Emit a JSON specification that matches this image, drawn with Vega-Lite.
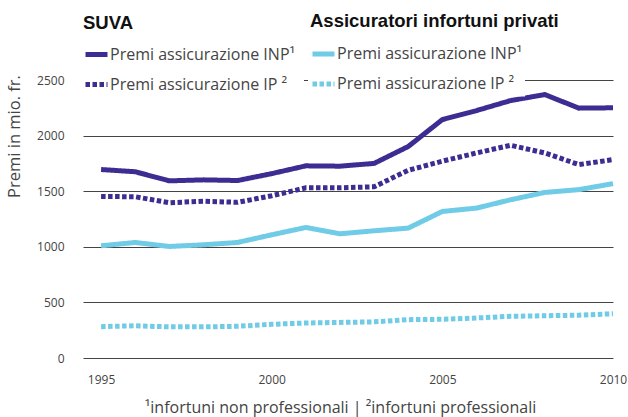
{
  "$schema": "https://vega.github.io/schema/vega-lite/v6.json",
  "width": 530,
  "height": 278,
  "autosize": "none",
  "padding": {"left": 83, "top": 80, "right": 15, "bottom": 59},
  "background": "white",
  "config": {"view": {"stroke": null}, "font": "Open Sans"},
  "title": {"text": "Assicuratori infortuni privati", "anchor": "start", "frame": "group", "dx": 227, "offset": 0, "dy": 24, "font": "Liberation Sans", "fontSize": 18.5, "fontWeight": "bold", "color": "#111"},
  "data": {"values": [
    {"anno":1995,"gruppo":"SUVA","serie":"Premi assicurazione INP¹","valore":1695},
    {"anno":1996,"gruppo":"SUVA","serie":"Premi assicurazione INP¹","valore":1675},
    {"anno":1997,"gruppo":"SUVA","serie":"Premi assicurazione INP¹","valore":1593},
    {"anno":1998,"gruppo":"SUVA","serie":"Premi assicurazione INP¹","valore":1602},
    {"anno":1999,"gruppo":"SUVA","serie":"Premi assicurazione INP¹","valore":1596},
    {"anno":2000,"gruppo":"SUVA","serie":"Premi assicurazione INP¹","valore":1658},
    {"anno":2001,"gruppo":"SUVA","serie":"Premi assicurazione INP¹","valore":1728},
    {"anno":2002,"gruppo":"SUVA","serie":"Premi assicurazione INP¹","valore":1725},
    {"anno":2003,"gruppo":"SUVA","serie":"Premi assicurazione INP¹","valore":1750},
    {"anno":2004,"gruppo":"SUVA","serie":"Premi assicurazione INP¹","valore":1902},
    {"anno":2005,"gruppo":"SUVA","serie":"Premi assicurazione INP¹","valore":2144},
    {"anno":2006,"gruppo":"SUVA","serie":"Premi assicurazione INP¹","valore":2225},
    {"anno":2007,"gruppo":"SUVA","serie":"Premi assicurazione INP¹","valore":2315},
    {"anno":2008,"gruppo":"SUVA","serie":"Premi assicurazione INP¹","valore":2369},
    {"anno":2009,"gruppo":"SUVA","serie":"Premi assicurazione INP¹","valore":2247},
    {"anno":2010,"gruppo":"SUVA","serie":"Premi assicurazione INP¹","valore":2250},
    {"anno":1995,"gruppo":"SUVA","serie":"Premi assicurazione IP ²","valore":1453},
    {"anno":1996,"gruppo":"SUVA","serie":"Premi assicurazione IP ²","valore":1450},
    {"anno":1997,"gruppo":"SUVA","serie":"Premi assicurazione IP ²","valore":1396},
    {"anno":1998,"gruppo":"SUVA","serie":"Premi assicurazione IP ²","valore":1410},
    {"anno":1999,"gruppo":"SUVA","serie":"Premi assicurazione IP ²","valore":1400},
    {"anno":2000,"gruppo":"SUVA","serie":"Premi assicurazione IP ²","valore":1459},
    {"anno":2001,"gruppo":"SUVA","serie":"Premi assicurazione IP ²","valore":1530},
    {"anno":2002,"gruppo":"SUVA","serie":"Premi assicurazione IP ²","valore":1530},
    {"anno":2003,"gruppo":"SUVA","serie":"Premi assicurazione IP ²","valore":1540},
    {"anno":2004,"gruppo":"SUVA","serie":"Premi assicurazione IP ²","valore":1688},
    {"anno":2005,"gruppo":"SUVA","serie":"Premi assicurazione IP ²","valore":1770},
    {"anno":2006,"gruppo":"SUVA","serie":"Premi assicurazione IP ²","valore":1844},
    {"anno":2007,"gruppo":"SUVA","serie":"Premi assicurazione IP ²","valore":1913},
    {"anno":2008,"gruppo":"SUVA","serie":"Premi assicurazione IP ²","valore":1844},
    {"anno":2009,"gruppo":"SUVA","serie":"Premi assicurazione IP ²","valore":1739},
    {"anno":2010,"gruppo":"SUVA","serie":"Premi assicurazione IP ²","valore":1784},
    {"anno":1995,"gruppo":"Privati","serie":"Premi assicurazione INP¹","valore":1009},
    {"anno":1996,"gruppo":"Privati","serie":"Premi assicurazione INP¹","valore":1039},
    {"anno":1997,"gruppo":"Privati","serie":"Premi assicurazione INP¹","valore":1003},
    {"anno":1998,"gruppo":"Privati","serie":"Premi assicurazione INP¹","valore":1018},
    {"anno":1999,"gruppo":"Privati","serie":"Premi assicurazione INP¹","valore":1039},
    {"anno":2000,"gruppo":"Privati","serie":"Premi assicurazione INP¹","valore":1108},
    {"anno":2001,"gruppo":"Privati","serie":"Premi assicurazione INP¹","valore":1174},
    {"anno":2002,"gruppo":"Privati","serie":"Premi assicurazione INP¹","valore":1117},
    {"anno":2003,"gruppo":"Privati","serie":"Premi assicurazione INP¹","valore":1144},
    {"anno":2004,"gruppo":"Privati","serie":"Premi assicurazione INP¹","valore":1168},
    {"anno":2005,"gruppo":"Privati","serie":"Premi assicurazione INP¹","valore":1318},
    {"anno":2006,"gruppo":"Privati","serie":"Premi assicurazione INP¹","valore":1348},
    {"anno":2007,"gruppo":"Privati","serie":"Premi assicurazione INP¹","valore":1423},
    {"anno":2008,"gruppo":"Privati","serie":"Premi assicurazione INP¹","valore":1489},
    {"anno":2009,"gruppo":"Privati","serie":"Premi assicurazione INP¹","valore":1514},
    {"anno":2010,"gruppo":"Privati","serie":"Premi assicurazione INP¹","valore":1568},
    {"anno":1995,"gruppo":"Privati","serie":"Premi assicurazione IP ²","valore":282},
    {"anno":1996,"gruppo":"Privati","serie":"Premi assicurazione IP ²","valore":290},
    {"anno":1997,"gruppo":"Privati","serie":"Premi assicurazione IP ²","valore":280},
    {"anno":1998,"gruppo":"Privati","serie":"Premi assicurazione IP ²","valore":280},
    {"anno":1999,"gruppo":"Privati","serie":"Premi assicurazione IP ²","valore":285},
    {"anno":2000,"gruppo":"Privati","serie":"Premi assicurazione IP ²","valore":303},
    {"anno":2001,"gruppo":"Privati","serie":"Premi assicurazione IP ²","valore":315},
    {"anno":2002,"gruppo":"Privati","serie":"Premi assicurazione IP ²","valore":320},
    {"anno":2003,"gruppo":"Privati","serie":"Premi assicurazione IP ²","valore":325},
    {"anno":2004,"gruppo":"Privati","serie":"Premi assicurazione IP ²","valore":345},
    {"anno":2005,"gruppo":"Privati","serie":"Premi assicurazione IP ²","valore":348},
    {"anno":2006,"gruppo":"Privati","serie":"Premi assicurazione IP ²","valore":360},
    {"anno":2007,"gruppo":"Privati","serie":"Premi assicurazione IP ²","valore":375},
    {"anno":2008,"gruppo":"Privati","serie":"Premi assicurazione IP ²","valore":380},
    {"anno":2009,"gruppo":"Privati","serie":"Premi assicurazione IP ²","valore":385},
    {"anno":2010,"gruppo":"Privati","serie":"Premi assicurazione IP ²","valore":398}
  ]},
  "encoding": {
    "x": {"field": "anno", "type": "quantitative",
      "scale": {"domain": [1994.47, 2010], "nice": false, "zero": false},
      "axis": {"values": [1995, 2000, 2005, 2010], "format": "d", "grid": false, "domain": false, "ticks": false,
        "labelPadding": 16, "labelFontSize": 12, "labelColor": "#444", "labelFlush": false,
        "title": "¹infortuni non professionali   |   ²infortuni professionali",
        "titleFontSize": 16, "titleFontWeight": "normal", "titleColor": "#444", "titlePadding": 14, "titleX": 257}},
    "y": {"field": "valore", "type": "quantitative",
      "scale": {"domain": [0, 2500], "nice": false},
      "axis": {"values": [0, 500, 1000, 1500, 2000, 2500], "format": "d", "grid": true, "gridColor": "#444", "gridWidth": 1.2,
        "domain": false, "ticks": false, "labelPadding": 19, "labelFontSize": 12, "labelColor": "#444",
        "title": "Premi in mio. fr.", "titleFontSize": 16.5, "titleFontWeight": "normal", "titleColor": "#444",
        "titleX": -61, "titleY": 56}}
  },
  "layer": [
    {
      "transform": [{"filter": "datum.gruppo === 'SUVA'"}],
      "mark": {"type": "line", "strokeWidth": 5, "strokeCap": "butt"},
      "encoding": {
        "color": {"field": "serie", "type": "nominal",
          "scale": {"domain": ["Premi assicurazione INP¹", "Premi assicurazione IP ²"], "range": ["#3d2c91", "#3d2c91"]},
          "legend": {"title": "SUVA", "orient": "none", "legendX": -8, "legendY": -74, "symbolType": "stroke", "symbolSize": 484, "symbolStrokeWidth": 5, "labelFontSize": 16, "labelColor": "#444", "titleFont": "Liberation Sans", "titleFontSize": 18.5, "titleColor": "#111", "titleFontWeight": "bold", "titlePadding": 8.5, "rowPadding": 6, "padding": 8, "fillColor": "white", "labelOffset": 0, "labelLimit": 300}},
        "strokeDash": {"field": "serie", "type": "nominal",
          "scale": {"domain": ["Premi assicurazione INP¹", "Premi assicurazione IP ²"], "range": [[1, 0], [4.5, 2.5]]},
          "legend": {"title": "SUVA", "orient": "none", "legendX": -8, "legendY": -74, "symbolType": "stroke", "symbolSize": 484, "symbolStrokeWidth": 5, "labelFontSize": 16, "labelColor": "#444", "titleFont": "Liberation Sans", "titleFontSize": 18.5, "titleColor": "#111", "titleFontWeight": "bold", "titlePadding": 8.5, "rowPadding": 6, "padding": 8, "fillColor": "white", "labelOffset": 0, "labelLimit": 300}}
      }
    },
    {
      "transform": [{"filter": "datum.gruppo === 'Privati'"}],
      "mark": {"type": "line", "strokeWidth": 5, "strokeCap": "butt"},
      "encoding": {
        "color": {"field": "serie", "type": "nominal",
          "scale": {"domain": ["Premi assicurazione INP¹", "Premi assicurazione IP ²"], "range": ["#6fcbe6", "#6fcbe6"]},
          "legend": {"title": null, "orient": "none", "legendX": 225, "legendY": -41.5, "symbolType": "stroke", "symbolSize": 484, "symbolStrokeWidth": 5, "labelFontSize": 16, "labelColor": "#444", "rowPadding": 6, "padding": 2, "fillColor": "white", "labelOffset": 0, "labelLimit": 300}},
        "strokeDash": {"field": "serie", "type": "nominal",
          "scale": {"domain": ["Premi assicurazione INP¹", "Premi assicurazione IP ²"], "range": [[1, 0], [4.5, 2.5]]},
          "legend": {"title": null, "orient": "none", "legendX": 225, "legendY": -41.5, "symbolType": "stroke", "symbolSize": 484, "symbolStrokeWidth": 5, "labelFontSize": 16, "labelColor": "#444", "rowPadding": 6, "padding": 2, "fillColor": "white", "labelOffset": 0, "labelLimit": 300}}
      }
    }
  ],
  "resolve": {"scale": {"color": "independent", "strokeDash": "independent"}}
}
